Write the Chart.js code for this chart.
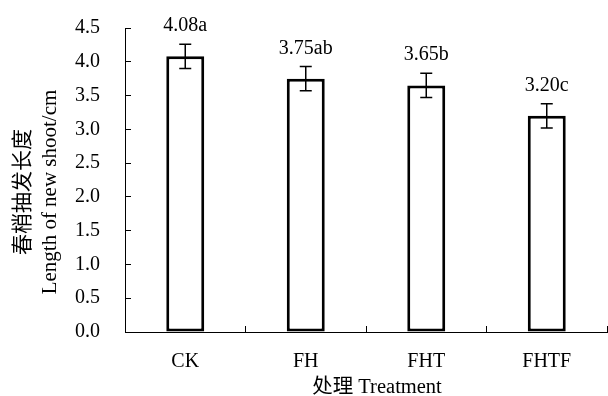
<!DOCTYPE html>
<html>
<head>
<meta charset="utf-8">
<script src="https://cdn.jsdelivr.net/npm/chart.js@4"></script>
<style>
html, body { margin: 0; padding: 0; background: #fff; }
#wrap { width: 608px; height: 396px; }
</style>
</head>
<body>
<div id="wrap"><canvas id="shoot_length_canvas"></canvas></div>
<script>
const treatments = ['CK', 'FH', 'FHT', 'FHTF'];
const shoot_length = [4.08, 3.75, 3.65, 3.20];
const shoot_error = [0.18, 0.18, 0.18, 0.18];
const significance = ['a', 'ab', 'b', 'c'];
const y_title = ['春梢抽发长度', 'Length of new shoot/cm'];
const x_title = '处理 Treatment';

const serif = "'Liberation Serif', 'Times New Roman', 'Noto Sans CJK SC', serif";
Chart.defaults.font.family = serif;
Chart.defaults.font.size = 20;
Chart.defaults.color = '#000';

// error bars, letters above them and the two axis titles
const error_bar_plugin = {
    id: 'error_bars',
    afterDatasetsDraw(chart) {
        const ctx = chart.ctx;
        const x = chart.scales.x;
        const y = chart.scales.y;
        ctx.save();
        ctx.strokeStyle = '#000';
        ctx.lineWidth = 1.5;
        ctx.fillStyle = '#000';
        ctx.font = '20px ' + serif;
        ctx.textAlign = 'center';
        ctx.textBaseline = 'alphabetic';
        for (let i = 0; i < shoot_length.length; i++) {
            const cx = x.getPixelForValue(i);
            const top = y.getPixelForValue(shoot_length[i] + shoot_error[i]);
            const bottom = y.getPixelForValue(shoot_length[i] - shoot_error[i]);
            ctx.beginPath();
            ctx.moveTo(cx, top);
            ctx.lineTo(cx, bottom);
            ctx.moveTo(cx - 6, top);
            ctx.lineTo(cx + 6, top);
            ctx.moveTo(cx - 6, bottom);
            ctx.lineTo(cx + 6, bottom);
            ctx.stroke();
            ctx.fillText(shoot_length[i].toFixed(2) + significance[i], cx, top - 13);
        }
        ctx.restore();
    },
    afterDraw(chart) {
        const ctx = chart.ctx;
        ctx.save();
        ctx.fillStyle = '#000';
        ctx.font = '21px ' + serif;
        ctx.textAlign = 'center';
        ctx.textBaseline = 'middle';
        ctx.translate(0, 192);
        ctx.rotate(-Math.PI / 2);
        ctx.fillText(y_title[0], 0, 23);
        ctx.fillText(y_title[1], 0, 50);
        ctx.restore();

        ctx.save();
        ctx.fillStyle = '#000';
        ctx.font = '20.5px ' + serif;
        ctx.textAlign = 'center';
        ctx.textBaseline = 'alphabetic';
        ctx.fillText(x_title, 377, 393);
        ctx.restore();
    }
};

let data = {
    labels: treatments,
    datasets: [{
        label: 'Length of new shoot',
        data: shoot_length,
        backgroundColor: '#fff',
        borderColor: '#000',
        borderWidth: 3,
        borderSkipped: false,
        barPercentage: 0.315,
        categoryPercentage: 1
    }]
};

let config = {
    type: 'bar',
    data: data,
    options: {
        responsive: true,
        maintainAspectRatio: false,
        animation: false,
        layout: {
            padding: {top: 28, right: 1, left: 0, bottom: 0}
        },
        plugins: {
            legend: {display: false},
            tooltip: {enabled: false}
        },
        scales: {
            x: {
                grid: {
                    drawOnChartArea: false,
                    color: '#000',
                    tickLength: -6
                },
                border: {color: '#000', width: 1},
                ticks: {padding: 24},
                afterFit: function (scale) {
                    scale.height = 64;
                    scale.paddingLeft = 0;
                    scale.paddingRight = 0;
                }
            },
            y: {
                min: 0,
                max: 4.5,
                grid: {
                    drawOnChartArea: false,
                    color: '#000',
                    tickLength: -6
                },
                border: {color: '#000', width: 1},
                ticks: {
                    stepSize: 0.5,
                    padding: 31,
                    callback: function (value) {
                        return value.toFixed(1);
                    }
                },
                afterFit: function (scale) {
                    scale.width = 125;
                    scale.paddingTop = 0;
                    scale.paddingBottom = 0;
                }
            }
        }
    },
    plugins: [error_bar_plugin]
};

const shoot_length_plot = new Chart(
    document.getElementById('shoot_length_canvas'),
    config
);
</script>
</body>
</html>
